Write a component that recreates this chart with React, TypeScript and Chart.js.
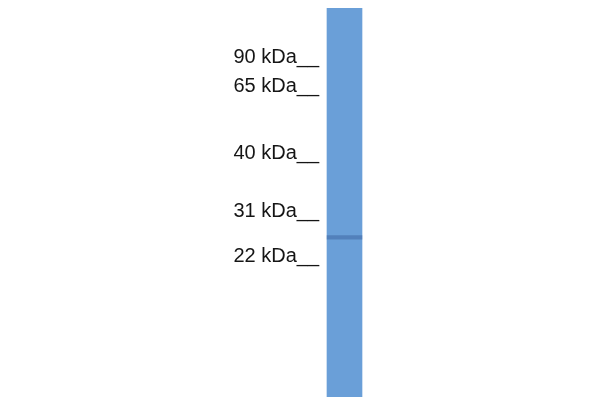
import React, { useEffect, useRef } from "react";
import { Chart, registerables } from "chart.js";

Chart.register(...registerables);

// Marker ladder (molecular weight labels) and their migration (% of lane length)
const markerLabels = ["90 kDa", "65 kDa", "40 kDa", "31 kDa", "22 kDa"];
const markerRf = [12.6, 20.3, 37.3, 52.2, 63.8];

// Lanes
const laneNames = ["Sample"];
const laneExtent: [number, number][] = [[0, 100]];

// Detected band (migration range, % of lane length)
const bandRange: [number, number][] = [[58.5, 59.4]];

export default function App() {
  const canvasRef = useRef<HTMLCanvasElement | null>(null);

  useEffect(() => {
    if (!canvasRef.current) return;
    const chart = new Chart(canvasRef.current, {
      type: "bar",
      data: {
        labels: laneNames,
        datasets: [
          {
            label: "band",
            data: bandRange as any,
            backgroundColor: "rgba(45, 80, 140, 0.38)",
            barThickness: 35,
            grouped: false,
            order: 0,
          } as any,
          {
            label: "lane",
            data: laneExtent as any,
            backgroundColor: "#6a9fd8",
            barThickness: 35,
            grouped: false,
            order: 1,
          } as any,
        ],
      },
      options: {
        animation: false,
        responsive: true,
        maintainAspectRatio: false,
        layout: { padding: { top: 8, bottom: 3, left: 0, right: 231 } },
        plugins: { legend: { display: false }, tooltip: { enabled: false } },
        scales: {
          x: { display: false },
          y: {
            reverse: true,
            min: 0,
            max: 100,
            grid: { display: false, drawTicks: false },
            border: { display: false },
            afterFit: (scale: any) => {
              scale.width = 320;
              scale.paddingTop = 0;
              scale.paddingBottom = 0;
            },
            afterBuildTicks: (scale: any) => {
              scale.ticks = markerRf.map((v) => ({ value: v }));
            },
            ticks: {
              padding: 1,
              autoSkip: false,
              color: "#151515",
              font: { family: "'Liberation Sans', Arial, sans-serif", size: 20 },
              callback: (_v: any, i: number) => markerLabels[i] + "__",
            },
          },
        },
      },
    });
    return () => chart.destroy();
  }, []);

  return (
    <div style={{ position: "fixed", left: 0, top: 0, width: 600, height: 400, background: "#fff" }}>
      <canvas ref={canvasRef} />
    </div>
  );
}
